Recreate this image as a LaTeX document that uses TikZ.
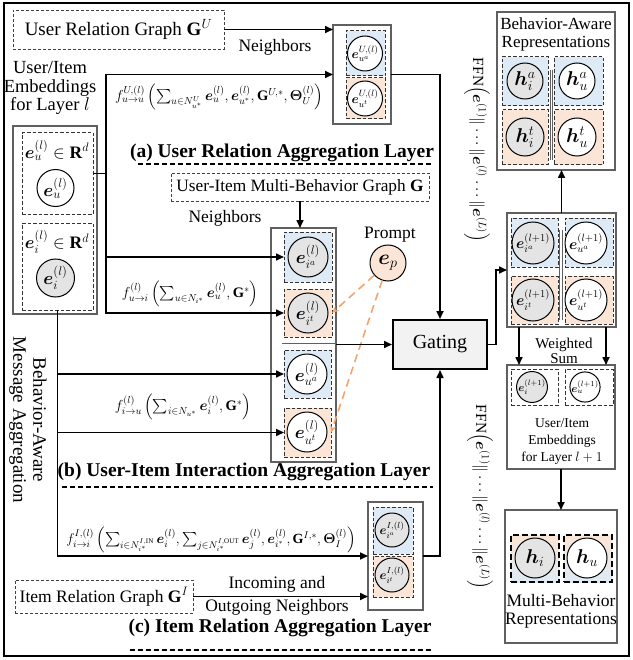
\RequirePackage{fix-cm}
\documentclass[tikz,border=0pt]{standalone}
\usepackage{amsmath}
\usepackage{bm}
\usepackage{fontspec}
\setmainfont{Liberation Serif}
\usetikzlibrary{arrows.meta,calc}
\definecolor{lblue}{HTML}{DEEAF6}
\definecolor{lorange}{HTML}{FBE5D6}
\definecolor{cgray}{HTML}{E4E4E4}
\definecolor{bgray}{HTML}{606060}
\definecolor{porange}{HTML}{F4A46C}
\definecolor{gatefill}{HTML}{F2F2F2}
\newcommand\mybox[6]{\node[#2,anchor=north west,minimum width={#5-#3},minimum height={#6-#4},inner sep=0pt,outer sep=0pt] (#1) at (#3,#4) {};}
\newcommand\mycirc[6]{\node[circ,#2,minimum size={2*#5}] (#1) at (#3,#4) {#6};}
\begin{document}
\begin{tikzpicture}[x=1pt,y=-1pt,
  txt/.style={inner sep=0pt,font=\fontsize{17.5}{18.5}\selectfont,align=center},
  lay/.style={inner sep=0pt,font=\fontsize{19.5}{20}\selectfont\bfseries},
  fml/.style={inner sep=0pt,font=\fontsize{14.5}{16}\selectfont},
  gbox/.style={draw=black!75,line width=0.8pt,dash pattern=on 3pt off 2pt,inner sep=0pt,font=\fontsize{17.5}{18.5}\selectfont},
  sbox/.style={draw=bgray,line width=1.3pt},
  dbox/.style={draw=black!80,line width=1pt,dash pattern=on 3.5pt off 2pt},
  tbox/.style={draw=black,line width=2pt,dash pattern=on 6pt off 3pt},
  bl/.style={fill=lblue},
  og/.style={fill=lorange},
  circ/.style={circle,draw=black,line width=1pt,inner sep=0pt,font=\fontsize{18}{18}\selectfont},
  gc/.style={fill=cgray},
  wc/.style={fill=white},
  conn/.style={line width=1.6pt,-{Triangle[length=8pt,width=7pt]}},
  pline/.style={line width=1.6pt},
  pdash/.style={draw=porange,line width=1.6pt,dash pattern=on 8pt off 5pt,-{Stealth[length=7pt,width=6pt]}},
  uline/.style={line width=1.5pt,dash pattern=on 5pt off 3pt},
  sepline/.style={draw=bgray,line width=0.8pt},
  ffn/.style={rotate=-90,inner sep=0pt,font=\fontsize{15.5}{16}\selectfont}
]
\useasboundingbox (0,0) rectangle (632,660);
\draw[line width=2.2pt] (4,3) rectangle (629,656);

% ---------- left: inputs ----------
\node[gbox,minimum width=211pt,minimum height=39pt,font=\fontsize{19}{19}\selectfont] (UG) at (118.5,29.5) {User Relation Graph $\mathbf{G}^{U}$};
\node[txt,font=\fontsize{18.5}{18.5}\selectfont] (EmbT) at (50,88) {User/Item\\Embeddings\\for Layer $l$};

\mybox{Emb}{sbox}{13}{126}{97}{314}
\mybox{EU}{dbox}{22}{133}{93}{214}
\mybox{EI}{dbox}{22}{223}{93}{310}
\node[txt] (EUt) at (57,150) {$\bm{e}_u^{(l)}\in\mathbf{R}^d$};
\mycirc{cu}{wc}{55.5}{188}{18.5}{$\bm{e}_u^{(l)}$}
\node[txt] (EIt) at (57,242) {$\bm{e}_i^{(l)}\in\mathbf{R}^d$};
\mycirc{ci}{gc}{55.5}{278}{19}{$\bm{e}_i^{(l)}$}

\node[rotate=-90,align=center,inner sep=0pt,font=\fontsize{19}{20}\selectfont] (BAM) at (28,420) {Behavior-Aware\\Message Aggregation};

% ---------- (a) user relation ----------
\mybox{Ubox}{sbox}{333}{25}{391}{124}
\mybox{UA}{dbox,bl}{346}{31}{385}{76}
\mybox{UT}{dbox,og}{346}{78}{385}{119}
\mycirc{cua}{wc,font=\fontsize{13}{13}\selectfont}{365}{53.5}{17.5}{$\bm{e}_{u^a}^{U,(l)}$}
\mycirc{cut}{wc,font=\fontsize{13}{13}\selectfont}{365}{98.5}{17.5}{$\bm{e}_{u^t}^{U,(l)}$}

\draw[conn] (UG.east) -- (UG.east -| Ubox.west);
\node[txt] (nb1) at (275,47) {Neighbors};
\node[fml] (fuu) at (219,97) {$f^{U,(l)}_{u\rightarrow u}\left(\sum_{u\in N^{U}_{u^*}}\bm{e}_u^{(l)},\bm{e}_{u^*}^{(l)},\mathbf{G}^{U,*},\bm{\Theta}^{(l)}_{U}\right)$};
\node[lay] (La) at (282,153) {(a) User Relation Aggregation Layer};
\draw[uline] (138,164) -- (433,164);

% ---------- (b) user-item interaction ----------
\node[gbox,minimum width=258pt,minimum height=28pt,font=\fontsize{17.3}{18}\selectfont] (UIG) at (300,187) {User-Item Multi-Behavior Graph $\mathbf{G}$};
\node[txt] (nb2) at (225,218) {Neighbors};

\mybox{Bbox}{sbox}{271}{228}{336}{462}
\mybox{BIA}{dbox,bl}{284}{232}{332}{282}
\mybox{BIT}{dbox,og}{284}{289}{332}{337}
\draw[sepline] (282,343) -- (335,343);
\mybox{BUA}{dbox,bl}{284}{350}{331}{398}
\mybox{BUT}{dbox,og}{284}{408}{331}{457}
\mycirc{cia}{gc}{308}{257}{20}{$\bm{e}_{i^a}^{(l)}$}
\mycirc{cit}{gc}{308}{313}{20}{$\bm{e}_{i^t}^{(l)}$}
\mycirc{cub}{wc}{307}{374}{20}{$\bm{e}_{u^a}^{(l)}$}
\mycirc{ctb}{wc}{307}{432}{20}{$\bm{e}_{u^t}^{(l)}$}

\draw[conn] (UIG.south) -- (UIG.south |- Bbox.north);

\coordinate (J1) at (106,173.5);
\draw[pline] (EU.east) -- (J1);
\draw[conn] (J1) |- (Ubox.west);
\draw[conn] (J1) |- (BIA.west);
\draw[conn] (J1) |- (BIT.west);
\node[fml] (fui) at (190,294) {$f^{(l)}_{u\rightarrow i}\left(\sum_{u\in N_{i^*}}\bm{e}_u^{(l)},\mathbf{G}^{*}\right)$};

\draw[conn] (EI.south |- BUA.west) -- (BUA.west);
\draw[conn] (EI.south |- BUT.west) -- (BUT.west);
\node[fml] (fiu) at (183,407) {$f^{(l)}_{i\rightarrow u}\left(\sum_{i\in N_{u^*}}\bm{e}_i^{(l)},\mathbf{G}^{*}\right)$};

\node[lay] (Lb) at (244,472) {(b) User-Item Interaction Aggregation Layer};
\draw[uline] (62,487) -- (433,487);

% prompt
\node[txt] (pt) at (390,235) {Prompt};
\mycirc{ep}{og,font=\fontsize{21}{21}\selectfont}{388}{263}{18}{$\bm{e}_p$}
\draw[pdash] (ep) -- (BIT.east);
\draw[pdash] (ep) -- (BUT.east);

% ---------- gating ----------
\node[draw=black,line width=2pt,fill=gatefill,minimum width=94pt,minimum height=49pt,inner sep=0pt,font=\fontsize{20}{20}\selectfont] (Gate) at (440,344.5) {Gating};
\draw[conn] (Gate.west -| Bbox.east) -- (Gate.west);
\draw[conn] (Ubox.east) -| (Gate.north);

% ---------- (c) item relation ----------
\mybox{Cbox}{sbox}{368}{502}{423}{610}
\mybox{CIA}{dbox,bl}{373}{507}{413}{554}
\mybox{CIT}{dbox,og}{373}{556}{413}{597}
\mycirc{cca}{gc,font=\fontsize{12.5}{12.5}\selectfont}{392}{530}{17}{$\bm{e}_{i^a}^{I,(l)}$}
\mycirc{cct}{gc,font=\fontsize{12.5}{12.5}\selectfont}{392}{575}{17}{$\bm{e}_{i^t}^{I,(l)}$}
\draw[conn] (Cbox.east) -| (Gate.south);
\draw[conn] (EI.south) |- (Cbox.west);
\node[fml,font=\fontsize{14}{16}\selectfont] (fii) at (211,540) {$f^{I,(l)}_{i\rightarrow i}\left(\sum_{i\in N^{I,\mathrm{IN}}_{i^*}}\bm{e}_i^{(l)},\sum_{j\in N^{I,\mathrm{OUT}}_{i^*}}\bm{e}_j^{(l)},\bm{e}_{i^*}^{(l)},\mathbf{G}^{I,*},\bm{\Theta}^{(l)}_{I}\right)$};

\node[gbox,minimum width=178pt,minimum height=33pt] (IG) at (104,596.5) {Item Relation Graph $\mathbf{G}^{I}$};
\draw[conn] (IG.east) -- (IG.east -| Cbox.west);
\node[txt] (inc) at (277,584) {Incoming and};
\node[txt] (outg) at (277,607) {Outgoing Neighbors};

\node[lay] (Lc) at (280,628) {(c) Item Relation Aggregation Layer};
\draw[uline] (130,650) -- (433,650);

% ---------- right column ----------
\mybox{BA}{sbox}{497}{12}{615}{170}
\node[txt,font=\fontsize{17}{18}\selectfont] (BAt) at (556,34) {Behavior-Aware\\Representations};
\mybox{RIa}{dbox,bl}{502}{57}{548}{106}
\mybox{RUa}{dbox,bl}{554}{57}{603}{106}
\mybox{RIt}{dbox,og}{502}{110}{548}{165}
\mybox{RUt}{dbox,og}{554}{110}{603}{165}
\draw[sepline] (550,70) -- (550,160);
\draw[sepline] (552.5,70) -- (552.5,160);
\mycirc{hia}{gc,font=\fontsize{20}{20}\selectfont}{525}{81}{18}{$\bm{h}_i^a$}
\mycirc{hua}{wc,font=\fontsize{20}{20}\selectfont}{577}{81}{18}{$\bm{h}_u^a$}
\mycirc{hit}{gc,font=\fontsize{20}{20}\selectfont}{525}{137}{19}{$\bm{h}_i^t$}
\mycirc{hut}{wc,font=\fontsize{20}{20}\selectfont}{577}{137}{19}{$\bm{h}_u^t$}

\mybox{WS}{sbox}{507}{213}{616}{327}
\mybox{WIa}{dbox,bl}{511}{218}{558}{267}
\mybox{WUa}{dbox,bl}{565}{218}{613}{267}
\mybox{WIt}{dbox,og}{511}{276}{558}{324}
\mybox{WUt}{dbox,og}{565}{276}{613}{324}
\draw[sepline] (559.5,230) -- (559.5,320);
\draw[sepline] (562,230) -- (562,320);
\mycirc{wia}{gc,font=\fontsize{15}{15}\selectfont}{533}{243}{21}{$\bm{e}_{i^a}^{(l+1)}$}
\mycirc{wua}{wc,font=\fontsize{15}{15}\selectfont}{586}{243}{21}{$\bm{e}_{u^a}^{(l+1)}$}
\mycirc{wit}{gc,font=\fontsize{15}{15}\selectfont}{533}{300}{21}{$\bm{e}_{i^t}^{(l+1)}$}
\mycirc{wut}{wc,font=\fontsize{15}{15}\selectfont}{586}{300}{21}{$\bm{e}_{u^t}^{(l+1)}$}

\draw[conn] (Gate.east) -- ++(8,0) |- (WS.west);
\draw[conn] (WS.north) -- (WS.north |- BA.south);

\node[inner sep=0pt,align=center,font=\fontsize{15}{15}\selectfont] (WSt) at (564,350.5) {Weighted\\Sum};

\mybox{EL}{sbox}{507}{365}{615}{469}
\mybox{ELi}{dbox}{511}{369}{558}{405}
\mybox{ELu}{dbox}{565}{369}{613}{405}
\mycirc{eli}{gc,font=\fontsize{11}{11}\selectfont}{532}{387}{15}{$\bm{e}_i^{(l+1)}$}
\mycirc{elu}{wc,font=\fontsize{11}{11}\selectfont}{585}{387}{15}{$\bm{e}_u^{(l+1)}$}
\node[inner sep=0pt,align=center,font=\fontsize{13.5}{17}\selectfont] (ELt) at (562,442) {User/Item\\Embeddings\\for Layer $l+1$};
\draw[conn] ([xshift=12pt]WS.south west) -- ([xshift=12pt]WS.south west |- EL.north);
\draw[conn] ([xshift=-10pt]WS.south east) -- ([xshift=-10pt]WS.south east |- EL.north);

\mybox{MB}{sbox}{505}{510}{617}{643}
\mybox{MBi}{tbox,top color=lorange,bottom color=lblue}{511}{535}{559}{582}
\mybox{MBu}{tbox,top color=lorange,bottom color=lblue}{564}{535}{612}{582}
\mycirc{hi}{gc,font=\fontsize{20}{20}\selectfont}{535}{558}{20}{$\bm{h}_i$}
\mycirc{hu}{wc,font=\fontsize{20}{20}\selectfont}{587}{558}{20}{$\bm{h}_u$}
\node[txt,font=\fontsize{17.5}{18}\selectfont] (MBt) at (561,611) {Multi-Behavior\\Representations};
\draw[conn] (EL.south) -- (EL.south |- MB.north);

% FFN labels
\node[ffn] (ffn1) at (477,150) {FFN$\left(\bm{e}^{(1)}\|\cdots\|\bm{e}^{(l)}\cdots\|\bm{e}^{(L)}\right)$};
\node[ffn] (ffn2) at (480,497) {FFN$\left(\bm{e}^{(1)}\|\cdots\|\bm{e}^{(l)}\cdots\|\bm{e}^{(L)}\right)$};
\end{tikzpicture}
\end{document}
